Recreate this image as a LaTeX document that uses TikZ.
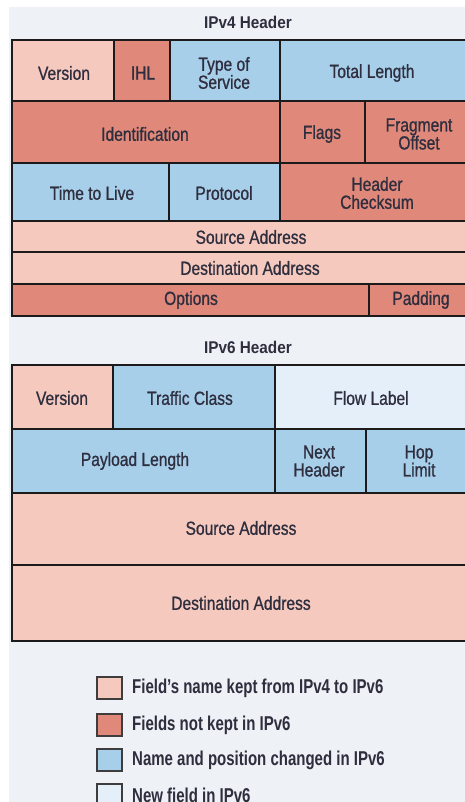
\documentclass[tikz,border=0pt]{standalone}
\usepackage{fontspec}
\setmainfont{Liberation Sans}
\newfontfamily\cellfont[FakeStretch=0.82,FakeBold=0.9]{Liberation Sans}
\newfontfamily\titlefont[FakeStretch=0.9]{Liberation Sans}
\newfontfamily\legendfont[FakeStretch=0.75]{Liberation Sans}

\definecolor{pagebg}{HTML}{EEF1F5}
\definecolor{keptcol}{HTML}{F6C9BF}
\definecolor{dropcol}{HTML}{E0887A}
\definecolor{movedcol}{HTML}{A8CFEA}
\definecolor{newcol}{HTML}{E4EFF9}
\definecolor{rulecol}{HTML}{1C1A1A}
\definecolor{inkcol}{HTML}{2E2E3E}

% one header field: fill colour, then corners (x1,y1) (x2,y2)
\newcommand\hdrfield[5]{%
  \path[draw=rulecol, line width=2.8pt, fill=#1] (#2,#3) rectangle (#4,#5);}

\tikzset{
  fieldtext/.style={font=\cellfont\fontsize{19}{18}\selectfont, text=inkcol,
    align=center, inner sep=0pt},
  headtitle/.style={font=\titlefont\bfseries\fontsize{17}{20}\selectfont,
    text=inkcol, inner sep=0pt},
  keybox/.style={draw=rulecol!85, line width=1.1pt, minimum width=25pt,
    minimum height=22pt, inner sep=0pt},
  keytext/.style={font=\legendfont\bfseries\fontsize{20}{22}\selectfont,
    text=inkcol, anchor=west, inner sep=0pt},
}

\begin{document}
\begin{tikzpicture}[x=1pt, y=-1pt]
\useasboundingbox (0,0) rectangle (465,802);
\clip (0,0) rectangle (465,802);
\fill[pagebg] (9,7) rectangle (480,820);

% ---------------- IPv4 header ----------------
\node[headtitle] (v4title) at (248,22) {IPv4 Header};

\hdrfield{keptcol}{12}{40}{114}{101}
\hdrfield{dropcol}{114}{40}{170}{101}
\hdrfield{movedcol}{170}{40}{280}{101}
\hdrfield{movedcol}{280}{40}{480}{101}

\hdrfield{dropcol}{12}{101}{280}{163}
\hdrfield{dropcol}{280}{101}{365}{163}
\hdrfield{dropcol}{365}{101}{480}{163}

\hdrfield{movedcol}{12}{163}{169}{221}
\hdrfield{movedcol}{169}{163}{280}{221}
\hdrfield{dropcol}{280}{163}{480}{221}

\hdrfield{keptcol}{12}{221}{480}{252}
\hdrfield{keptcol}{12}{252}{480}{284}

\hdrfield{dropcol}{12}{284}{369}{316}
\hdrfield{dropcol}{369}{284}{480}{316}

\node[fieldtext] (v4ver)  at (64,73)   {Version};
\node[fieldtext] (v4ihl)  at (143,73)  {IHL};
\node[fieldtext] (v4tos)  at (224,73)  {Type of\\Service};
\node[fieldtext] (v4len)  at (372,73)  {Total Length};
\node[fieldtext] (v4id)   at (145,134) {Identification};
\node[fieldtext] (v4flg)  at (322,134) {Flags};
\node[fieldtext] (v4frag) at (419,134) {Fragment\\Offset};
\node[fieldtext] (v4ttl)  at (92,193)  {Time to Live};
\node[fieldtext] (v4prot) at (224,193) {Protocol};
\node[fieldtext] (v4sum)  at (377,193) {Header\\Checksum};
\node[fieldtext] (v4src)  at (251,237) {Source Address};
\node[fieldtext] (v4dst)  at (250,268) {Destination Address};
\node[fieldtext] (v4opt)  at (191,300) {Options};
\node[fieldtext] (v4pad)  at (421,300) {Padding};

% ---------------- IPv6 header ----------------
\node[headtitle] (v6title) at (248,347) {IPv6 Header};

\hdrfield{keptcol}{12}{365}{113}{429}
\hdrfield{movedcol}{113}{365}{275}{429}
\hdrfield{newcol}{275}{365}{480}{429}

\hdrfield{movedcol}{12}{429}{275}{493}
\hdrfield{movedcol}{275}{429}{366}{493}
\hdrfield{movedcol}{366}{429}{480}{493}

\hdrfield{keptcol}{12}{493}{480}{565}
\hdrfield{keptcol}{12}{565}{480}{641}

\node[fieldtext] (v6ver)  at (62,398)  {Version};
\node[fieldtext] (v6tc)   at (190,398) {Traffic Class};
\node[fieldtext] (v6flow) at (371,398) {Flow Label};
\node[fieldtext] (v6len)  at (135,461) {Payload Length};
\node[fieldtext] (v6nh)   at (319,461) {Next\\Header};
\node[fieldtext] (v6hop)  at (419,461) {Hop\\Limit};
\node[fieldtext] (v6src)  at (241,528) {Source Address};
\node[fieldtext] (v6dst)  at (241,603) {Destination Address};

% ---------------- legend ----------------
\node[keybox, fill=keptcol]  (k1) at (109.5,688) {};
\node[keybox, fill=dropcol]  (k2) at (109.5,725) {};
\node[keybox, fill=movedcol] (k3) at (109.5,760) {};
\node[keybox, fill=newcol]   (k4) at (109.5,795) {};

\node[keytext] (t1) at (132,688) {Field’s name kept from IPv4 to IPv6};
\node[keytext] (t2) at (132,725) {Fields not kept in IPv6};
\node[keytext] (t3) at (132,760) {Name and position changed in IPv6};
\node[keytext] (t4) at (132,795) {New field in IPv6};
\end{tikzpicture}
\end{document}
